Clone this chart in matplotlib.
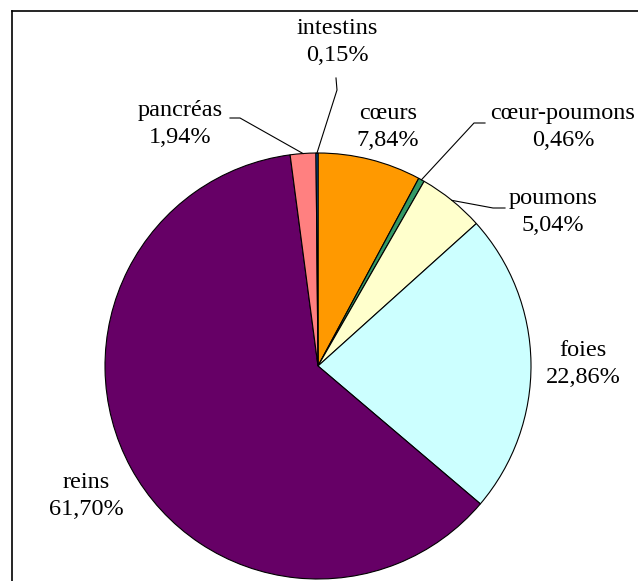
import numpy as np
import matplotlib
matplotlib.use("Agg")
import matplotlib.pyplot as plt
from matplotlib.lines import Line2D
from matplotlib import font_manager

labels = ["cœurs", "cœur-poumons", "poumons", "foies", "reins", "pancréas", "intestins"]
values = [7.84, 0.46, 5.04, 22.86, 61.70, 1.94, 0.15]
pct_labels = ["7,84%", "0,46%", "5,04%", "22,86%", "61,70%", "1,94%", "0,15%"]
colors = ["#FF9900", "#339966", "#FFFFCC", "#CCFFFF", "#660066", "#FF8080", "#0066CC"]

available = {f.name for f in font_manager.fontManager.ttflist}
serif_family = [f for f in ["Liberation Serif", "Times New Roman", "Nimbus Roman", "DejaVu Serif"]
                if f in available] or ["serif"]

W, H = 638, 581
fig = plt.figure(figsize=(W / 100, H / 100), dpi=100)
ax = fig.add_axes([0, 0, 1, 1])

cx, cy, r = 318, H - 366, 213
wedges, _ = ax.pie(values, colors=colors, startangle=90, counterclock=False,
                   center=(cx, cy), radius=r, frame=True,
                   wedgeprops=dict(edgecolor="black", linewidth=0.8))
ax.set_xlim(0, W)
ax.set_ylim(0, H)
ax.set_aspect("equal")
ax.axis("off")

font = dict(family=serif_family, fontsize=17.5, color="black",
            ha="center", va="center", linespacing=1.35)

# label centres (pixel coordinates from top-left)
label_pos = {
    "cœurs": (388, 127),
    "cœur-poumons": (563, 127),
    "poumons": (553, 212),
    "foies": (583, 364),
    "reins": (86, 496),
    "pancréas": (180, 124),
    "intestins": (337, 42),
}
for lab, pct in zip(labels, pct_labels):
    x, y = label_pos[lab]
    ax.text(x, H - y, f"{lab}\n{pct}", **font)

cum = np.cumsum([0] + values)
total = sum(values)
def rim_point(i):
    frac = (cum[i] + values[i] / 2) / total
    ang = np.deg2rad(90 - 360 * frac)
    return cx + r * np.cos(ang), cy + r * np.sin(ang)

leaders = {
    "cœur-poumons": [(485, 123), (474, 123)],
    "poumons": [(505, 208), (493, 208)],
    "pancréas": [(230, 118), (240, 118)],
    "intestins": [(336, 78), (337, 90)],
}
for lab, pts in leaders.items():
    i = labels.index(lab)
    px, py = rim_point(i)
    xs = [p[0] for p in pts] + [px]
    ys = [H - p[1] for p in pts] + [py]
    ax.plot(xs, ys, color="black", linewidth=0.8)

fig.add_artist(Line2D([12 / W, 12 / W], [0, 1 - 11 / H], color="black", linewidth=1.2,
                      transform=fig.transFigure))
fig.add_artist(Line2D([12 / W, 1], [1 - 11 / H, 1 - 11 / H], color="black", linewidth=1.2,
                      transform=fig.transFigure))

fig.savefig("out.png", dpi=100, facecolor="white")
